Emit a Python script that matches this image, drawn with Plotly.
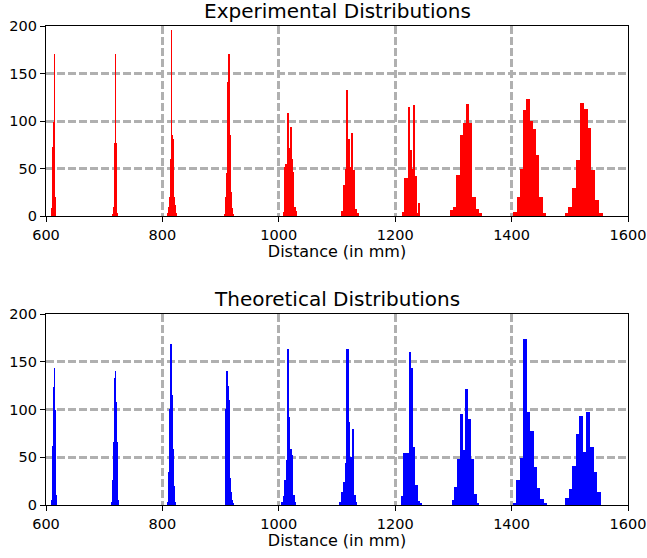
import plotly.graph_objects as go

# ---------------- data ----------------
n_bins = 10
exp_lo = [609.5, 714.5, 809.5, 906.0, 1007.5, 1108.0, 1213.0, 1294.0, 1403.0, 1491.0]
exp_hi = [616.7, 722.5, 823.5, 922.0, 1031.0, 1137.0, 1243.0, 1349.0, 1459.0, 1557.0]
exp_counts = [
    [2, 8, 30, 73, 75, 99, 171, 73, 20, 5],
    [2, 5, 10, 25, 46, 77, 171, 77, 15, 3],
    [3, 10, 20, 60, 196, 85, 81, 20, 12, 3],
    [2, 8, 20, 45, 141, 171, 85, 25, 8, 2],
    [4, 52, 55, 108, 72, 94, 60, 46, 10, 5],
    [5, 33, 50, 133, 81, 52, 87, 48, 7, 3],
    [4, 40, 40, 115, 69, 50, 117, 42, 3, 14],
    [6, 10, 43, 85, 98, 118, 98, 20, 7, 3],
    [4, 20, 50, 112, 123, 100, 92, 64, 20, 3],
    [3, 10, 29, 59, 119, 113, 93, 48, 17, 3],
]

theo_lo = [609.8, 713.0, 809.0, 907.6, 1005.0, 1105.0, 1210.0, 1297.0, 1402.0, 1492.0]
theo_hi = [618.4, 724.3, 823.0, 921.8, 1029.6, 1135.0, 1245.5, 1344.5, 1461.4, 1553.0]
theo_counts = [
    [5, 15, 62, 110, 124, 143, 99, 45, 10, 3],
    [3, 26, 26, 66, 133, 140, 108, 66, 15, 5],
    [3, 35, 101, 101, 169, 115, 59, 20, 10, 3],
    [5, 101, 140, 125, 110, 94, 28, 14, 5, 2],
    [3, 9, 26, 47, 163, 92, 59, 52, 10, 3],
    [3, 14, 24, 44, 163, 87, 50, 80, 10, 3],
    [9, 54, 54, 54, 160, 143, 61, 21, 4, 2],
    [5, 19, 48, 95, 58, 121, 90, 48, 12, 2],
    [2, 26, 49, 174, 97, 77, 40, 18, 6, 2],
    [7, 17, 41, 74, 93, 56, 97, 61, 35, 14],
]

x_ticks = [600, 800, 1000, 1200, 1400, 1600]
y_ticks = [0, 50, 100, 150, 200]
titles = ["Experimental Distributions", "Theoretical Distributions"]
x_label = "Distance (in mm)"


def hist_bars(los, his, counts):
    xs, ws, ys = [], [], []
    for lo, hi, cs in zip(los, his, counts):
        w = (hi - lo) / n_bins
        for i, c in enumerate(cs):
            xs.append(lo + w * (i + 0.5))
            ws.append(w)
            ys.append(c)
    return xs, ws, ys


FONT = "DejaVu Sans"
fig = go.Figure()

for k, (los, his, counts, color) in enumerate([
        (exp_lo, exp_hi, exp_counts, "#ff0000"),
        (theo_lo, theo_hi, theo_counts, "#0000ff")]):
    xs, ws, ys = hist_bars(los, his, counts)
    fig.add_trace(go.Bar(x=xs, y=ys, width=ws, marker=dict(color=color, line=dict(width=0)),
                         xaxis="x" if k == 0 else "x2", yaxis="y" if k == 0 else "y2",
                         showlegend=False, hoverinfo="skip"))

top_dom = [289 / 479, 1.0]
bot_dom = [0.0, 191 / 479]

axis_common = dict(
    showline=True, linecolor="black", linewidth=1.2, mirror=True,
    ticks="outside", ticklen=5, tickwidth=1.2, tickcolor="black",
    showgrid=True, gridcolor="#b0b0b0", gridwidth=2.5, griddash="8px,3px",
    zeroline=False, automargin=False,
    tickfont=dict(family=FONT, size=14.5, color="black"),
)

xax = dict(axis_common, range=[600, 1600], tickvals=x_ticks, ticktext=[str(v) for v in x_ticks],
           title=dict(text=x_label, font=dict(family=FONT, size=16, color="black"), standoff=3))
yax = dict(axis_common, range=[0, 200], tickvals=y_ticks, ticktext=[str(v) for v in y_ticks])

fig.update_layout(
    width=647, height=558,
    margin=dict(l=46, r=19, t=26, b=53, autoexpand=False),
    paper_bgcolor="white", plot_bgcolor="white",
    bargap=0, barmode="overlay",
    xaxis=dict(xax, anchor="y", domain=[0, 1]),
    yaxis=dict(yax, anchor="x", domain=top_dom),
    xaxis2=dict(xax, anchor="y2", domain=[0, 1]),
    yaxis2=dict(yax, anchor="x2", domain=bot_dom),
    font=dict(family=FONT, color="black"),
)

for dom, t in zip([top_dom, bot_dom], titles):
    fig.add_annotation(text=t, x=0.5, y=dom[1], xref="paper", yref="paper",
                       xanchor="center", yanchor="bottom", yshift=1, showarrow=False,
                       font=dict(family=FONT, size=20, color="black"))

# remove the browser's default 8px page margin so the figure sits at (0, 0)
fig.write_html("out.html", config={"displayModeBar": False},
               post_script="document.body.style.margin='0px';")
